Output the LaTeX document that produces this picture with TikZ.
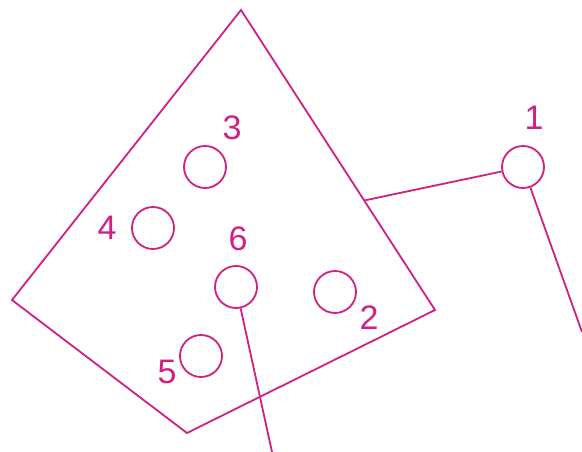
\documentclass[tikz,border=0pt]{standalone}
\usepackage{fontspec}
\setmainfont{Liberation Sans}
\usetikzlibrary{
positioning,
calc
}
\definecolor{plum}{RGB}{208,32,132}
\tikzset{
hole/.style={
draw=plum,
circle,
line width=1.8pt,
inner sep=0pt,
minimum size=42pt
},
tag/.style={
text=plum,
inner sep=0pt,
font=\fontsize{34}{34}\selectfont
},
wire/.style={
draw=plum,
line width=1.8pt
}
}

\begin{document}
\begin{tikzpicture}[x=1pt,y=-1pt]
\useasboundingbox (0,0) rectangle (582,452);
% plate outline
\coordinate (top) at (241,10);
\coordinate (left) at (12,300);
\coordinate (bottom) at (187,433);
\coordinate (right) at (435,310);
\draw[wire, line join=miter] (top) -- (right) -- (bottom) -- (left) -- cycle;
\coordinate (attach) at ($(top)!0.635!(right)$);

\node[hole] (c1) at (523,167) {};
\node[hole] (c2) at (335,292) {};
\node[hole] (c3) at (205,167) {};
\node[hole] (c4) at (153,228) {};
\node[hole] (c5) at (201,356) {};
\node[hole] (c6) at (236,287) {};

\node[tag] (l1) at (534,118) {1};
\node[tag] (l2) at (369,318) {2};
\node[tag] (l3) at (232,128) {3};
\node[tag] (l4) at (107,228) {4};
\node[tag] (l5) at (167,372) {5};
\node[tag] (l6) at (238,239) {6};

\coordinate (end1) at (582,332);
\coordinate (end6) at (272,452);
\draw[wire] (attach) -- (c1);
\draw[wire] (c1) -- (end1);
\draw[wire] (c6) -- (end6);
\end{tikzpicture}
\end{document}
